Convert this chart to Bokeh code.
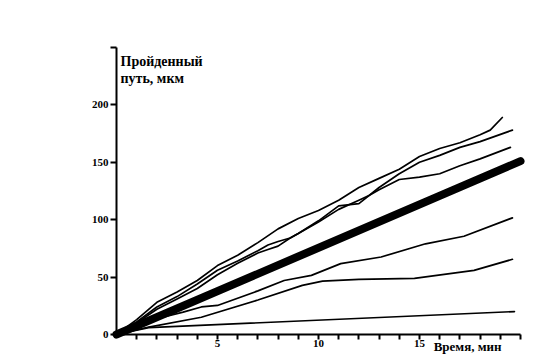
from bokeh.plotting import figure
from bokeh.models import FixedTicker, Label, CustomJSTickFormatter
from bokeh.embed import file_html
from bokeh.resources import INLINE

# ---- data ----
a_x = [0, 1, 2, 3, 4, 5, 6, 7, 8, 9, 10, 11, 12, 13, 14, 15, 16, 17, 18, 18.5, 19.1]
a_y = [0, 13, 28, 37, 47, 60, 69, 80, 92, 101, 108, 117, 128, 136, 144, 155, 162, 167, 174, 178, 189]

b_x = [0, 1, 2, 3, 4, 5, 6, 7, 7.5, 8, 8.6, 9, 10, 11, 12, 13, 14, 15, 16, 17, 18, 19.6]
b_y = [0, 11, 24, 33, 44, 56, 64, 73, 78, 81, 84, 88, 99, 112, 114, 128, 140, 150, 156, 163, 168, 178]

c_x = [0, 1, 2, 3, 4, 5, 6, 7, 7.5, 8, 8.6, 9, 10, 11, 12, 12.5, 13, 14, 15, 16, 17, 18, 19.5]
c_y = [0, 10, 22, 31, 40, 52, 62, 71, 74, 77, 84, 88, 98, 109, 117, 121, 126, 135, 137, 140, 147, 153, 163]

d_x = [0, 1.6, 3.3, 4.2, 5, 7, 8.3, 9.65, 11.1, 13.1, 15.3, 17.2, 19.6]
d_y = [0, 12, 19.5, 24, 25.3, 38, 47, 51.5, 61.7, 67.5, 79, 85.6, 101.6]

e_x = [0, 1.6, 4.2, 7, 9.2, 10.2, 12, 14.75, 17.7, 19.6]
e_y = [0, 6.5, 15, 30, 42.8, 46.5, 48, 48.9, 55.9, 65.5]

f_x = [0, 1.6, 19.7]
f_y = [0, 6, 20]

mean_x = [0, 20]
mean_y = [0, 151]

x_ticks = list(range(1, 21))
x_labelled = [5, 10, 15]
x_max = 20
y_ticks = [0, 50, 100, 150, 200, 250]
y_max = 250

y_title = "Пройденный\nпуть, мкм"
x_title = "Время, мин"

FONT = "Liberation Serif"

p = figure(width=540, height=358, output_backend="svg", toolbar_location=None,
           x_range=(-5.74, 20.99), y_range=(-20.9, 290.9),
           min_border_left=0, min_border_right=0, min_border_top=0, min_border_bottom=0)
p.outline_line_color = None
p.grid.visible = False
p.background_fill_color = "white"
p.border_fill_color = "white"

for xs, ys in [(a_x, a_y), (b_x, b_y), (c_x, c_y), (d_x, d_y), (e_x, e_y), (f_x, f_y)]:
    p.line(xs, ys, line_color="black", line_width=1.7, line_join="round", line_cap="round")
p.line(mean_x, mean_y, line_color="black", line_width=8, line_cap="round")

for ax in (p.xaxis[0], p.yaxis[0]):
    ax.fixed_location = 0
    ax.axis_line_width = 2
    ax.axis_line_color = "black"
    ax.major_tick_line_color = "black"
    ax.major_tick_line_width = 2
    ax.major_tick_in = 0
    ax.minor_tick_line_color = None
    ax.major_label_text_font = FONT
    ax.major_label_text_font_style = "bold"
    ax.major_label_text_font_size = "11px"
    ax.major_label_text_color = "black"

xax = p.xaxis[0]
xax.bounds = (0, x_max)
xax.ticker = FixedTicker(ticks=x_ticks)
xax.formatter = CustomJSTickFormatter(args=dict(shown=x_labelled),
                                      code="return shown.includes(tick) ? String(tick) : '';")
xax.major_tick_out = 5
xax.major_label_standoff = 0

yax = p.yaxis[0]
yax.bounds = (0, y_max)
yax.ticker = FixedTicker(ticks=y_ticks)
yax.formatter = CustomJSTickFormatter(args=dict(top=y_max),
                                      code="return tick == top ? '' : String(tick);")
yax.major_tick_out = 6
yax.major_label_standoff = 2

p.add_layout(Label(x=0.2, y=244, text=y_title, text_font=FONT, text_font_style="bold",
                   text_font_size="14px", text_baseline="top", text_color="black",
                   text_line_height=1.1))
p.add_layout(Label(x=15.7, y=-4.0, text=x_title, text_font=FONT, text_font_style="bold",
                   text_font_size="13px", text_baseline="top", text_color="black"))

open("out.html", "w").write(file_html(p, INLINE))
